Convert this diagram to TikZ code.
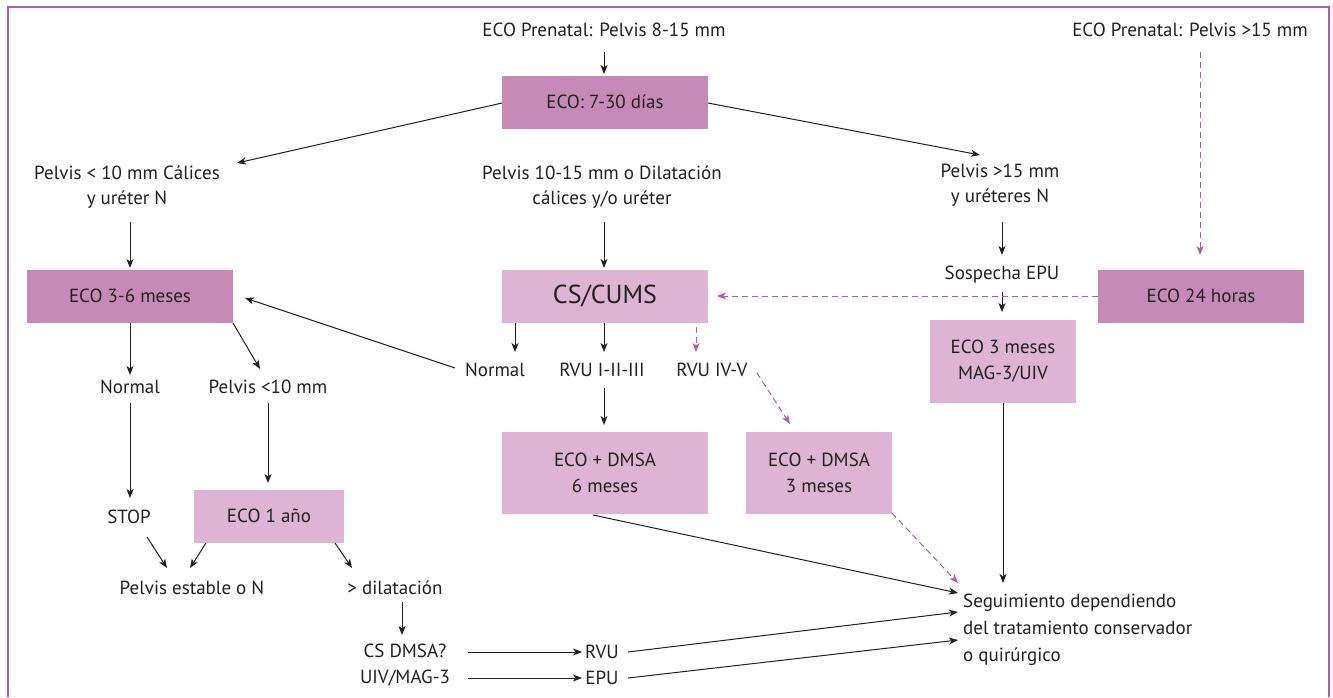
\documentclass[tikz,border=0pt]{standalone}
\usepackage{fontspec}
\setmainfont{PT Sans}
\usetikzlibrary{arrows.meta}
\definecolor{darkbox}{HTML}{C68AB9}
\definecolor{lightbox}{HTML}{DDB4D3}
\definecolor{frame}{HTML}{B35BAB}
\definecolor{dashc}{HTML}{B55AA8}
\definecolor{ink}{HTML}{231F20}
\begin{document}
\begin{tikzpicture}[x=1pt,y=-1pt,
  every node/.style={font=\fontsize{19}{25.5}\selectfont, text=ink, inner sep=1pt, align=center},
  dbox/.style={fill=darkbox, minimum width=206pt, minimum height=53pt, inner sep=0pt},
  lbox/.style={fill=lightbox, inner sep=0pt},
  arr/.style={draw=ink, line width=1pt, -{Stealth[length=9pt,width=7pt,inset=2.5pt]}},
  plain/.style={draw=ink, line width=1pt},
  darr/.style={draw=dashc, line width=1pt, dash pattern=on 6pt off 4pt, -{Stealth[length=9pt,width=7pt,inset=2.5pt]}}
]
\useasboundingbox (0,0) rectangle (1333,697);
\draw[frame, line width=2pt] (7.5,697) -- (7.5,7) -- (1329,7) -- (1329,697);

% nodes
\node (t1) at (604,30) {ECO Prenatal: Pelvis 8-15 mm};
\node[dbox] (b730) at (605,102) {ECO: 7-30 días};
\node (t15) at (1190,30) {ECO Prenatal: Pelvis >15 mm};
\node (pl10) at (127,187) {Pelvis < 10 mm Cálices\\y uréter N};
\node (pl1015) at (602,187) {Pelvis 10-15 mm o Dilatación\\cálices y/o uréter};
\node (pl15) at (1000,185) {Pelvis >15 mm\\y uréteres N};
\node[dbox] (b36) at (130,296) {ECO 3-6 meses};
\node[lbox, minimum width=206pt, minimum height=53pt, font=\fontsize{26}{30}\selectfont] (cs) at (605,296) {CS/CUMS};
\node[dbox] (b24) at (1201,296) {ECO 24 horas};
\node (sosp) at (1002,275) {Sospecha EPU};
\node[lbox, minimum width=146pt, minimum height=83pt] (b3m) at (1003,361) {ECO 3 meses\\MAG-3/UIV};
\node (nL) at (130,387) {Normal};
\node (pl10b) at (268,387) {Pelvis <10 mm};
\node (nM) at (495,370) {Normal};
\node (rvu13) at (602,370) {RVU I-II-III};
\node (rvu45) at (712,370) {RVU IV-V};
\node[lbox, minimum width=206pt, minimum height=82pt] (b6) at (605,473) {ECO + DMSA\\6 meses};
\node[lbox, minimum width=146pt, minimum height=82pt] (b3) at (819,473) {ECO + DMSA\\3 meses};
\node (stop) at (129,517) {STOP};
\node[lbox, minimum width=150pt, minimum height=53pt] (b1a) at (269,516) {ECO 1 año};
\node (pest) at (192,588) {Pelvis estable o N};
\node (dil) at (395,588) {> dilatación};
\node (csd) at (405,665) {CS DMSA?\\UIV/MAG-3};
\node (rvu) at (602,652) {RVU};
\node (epu) at (602,678) {EPU};
\node[anchor=west, align=left, font=\fontsize{19}{27}\selectfont] (seg) at (962,630) {Seguimiento dependiendo\\del tratamiento conservador\\o quirúrgico};

% connectors
\draw[arr] ([shift={(0,22)}]t1.center) -- ([shift={(-1,-28)}]b730.center);
\draw[arr] ([shift={(-103,1)}]b730.center) -- ([shift={(110,-24)}]pl10.center);
\draw[arr] ([shift={(103,1)}]b730.center) -- ([shift={(-20,-30)}]pl15.center);
\draw[arr] ([shift={(3,35)}]pl10.center) -- ([shift={(0,-28)}]b36.center);
\draw[arr] ([shift={(2,35)}]pl1015.center) -- ([shift={(-1,-28)}]cs.center);
\draw[arr] ([shift={(2,37)}]pl15.center) -- ([shift={(0,-20)}]sosp.center);
\draw[arr] ([shift={(0,17)}]sosp.center) -- ([shift={(-1,-49)}]b3m.center);
\draw[darr] ([shift={(10,22)}]t15.center) -- ([shift={(-1,-41)}]b24.center);
\draw[darr] (b24.west) -- ([shift={(112,0)}]cs.center);
\draw[arr] ([shift={(-90,27)}]cs.center) -- ([shift={(20,-18)}]nM.center);
\draw[arr] ([shift={(-1,27)}]cs.center) -- ([shift={(2,-18)}]rvu13.center);
\draw[darr] ([shift={(91,31)}]cs.center) -- ([shift={(-16,-18)}]rvu45.center);
\draw[darr] ([shift={(45,3)}]rvu45.center) -- ([shift={(-29,-49)}]b3.center);
\draw[arr] ([shift={(2,18)}]rvu13.center) -- ([shift={(-1,-48)}]b6.center);
\draw[arr] ([shift={(-40,-2)}]nM.center) -- ([shift={(115,2)}]b36.center);
\draw[arr] ([shift={(0,27)}]b36.center) -- ([shift={(0,-12)}]nL.center);
\draw[arr] ([shift={(103,27)}]b36.center) -- ([shift={(-8,-18)}]pl10b.center);
\draw[arr] ([shift={(0,16)}]nL.center) -- ([shift={(1,-19)}]stop.center);
\draw[arr] ([shift={(0,16)}]pl10b.center) -- ([shift={(-1,-33)}]b1a.center);
\draw[arr] ([shift={(18,20)}]stop.center) -- ([shift={(-25,-20)}]pest.center);
\draw[arr] ([shift={(-63,27)}]b1a.center) -- ([shift={(-2,-20)}]pest.center);
\draw[arr] ([shift={(66,27)}]b1a.center) -- ([shift={(-43,-20)}]dil.center);
\draw[arr] ([shift={(7,14)}]dil.center) -- ([shift={(-3,-30)}]csd.center);
\draw[arr] ([shift={(63,-13)}]csd.center) -- ([shift={(-20,0)}]rvu.center);
\draw[arr] ([shift={(63,13)}]csd.center) -- ([shift={(-20,0)}]epu.center);
\draw[arr] ([shift={(-12,42)}]b6.center) -- ([shift={(-4,-37)}]seg.west);
\draw[darr] ([shift={(73,40)}]b3.center) -- ([shift={(-4,-47)}]seg.west);
\draw[arr] ([shift={(0,42)}]b3m.center) -- ([shift={(41,-47)}]seg.west);
\draw[arr] ([shift={(26,0)}]rvu.center) -- ([shift={(-4,-18)}]seg.west);
\draw[arr] ([shift={(26,0)}]epu.center) -- ([shift={(-4,10)}]seg.west);
\end{tikzpicture}
\end{document}
